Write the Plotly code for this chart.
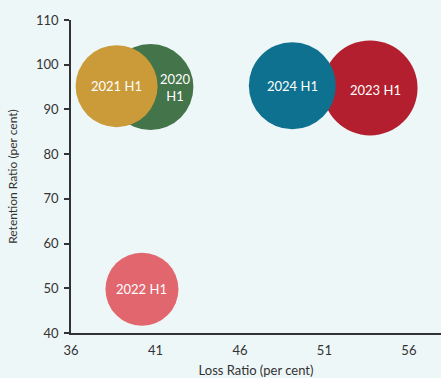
import plotly.graph_objects as go

# Half-year insurance performance: loss ratio vs retention ratio
periods = ["2020 H1", "2021 H1", "2022 H1", "2023 H1", "2024 H1"]
loss_ratio = [40.7, 38.7, 40.2, 53.7, 49.1]
retention_ratio = [95.0, 95.2, 49.8, 94.8, 95.3]
bubble_size = [86, 82, 73, 95, 87]
colors = ["#43744A", "#CB9B3A", "#E2666E", "#B31F2E", "#0F7190"]

x_ticks = [36, 41, 46, 51, 56]
y_ticks = [40, 50, 60, 70, 80, 90, 100, 110]

# label text and nudge per bubble
label_text = ["2020<br>H1", "2021 H1", "2022 H1", "2023 H1", "2024 H1"]
label_xshift = [25, 0, 0, 5, 0]
label_yshift = [0, 0, 0, -2, 0]

fig = go.Figure()
fig.add_trace(go.Scatter(
    x=loss_ratio,
    y=retention_ratio,
    mode="markers",
    marker=dict(size=bubble_size, sizemode="diameter", sizeref=1,
                color=colors, opacity=1, line=dict(width=0)),
    hoverinfo="text",
    text=periods,
    showlegend=False,
))

for xv, yv, txt, dx, dy in zip(loss_ratio, retention_ratio, label_text,
                               label_xshift, label_yshift):
    fig.add_annotation(x=xv, y=yv, text=txt, showarrow=False, xshift=dx, yshift=dy,
                       font=dict(family="Lato", size=13, color="white",
                                 lineposition="none"),
                       align="center")

bg = "#EEF7F7"
fig.update_layout(
    width=441, height=378,
    margin=dict(l=71, r=0, t=20, b=45),
    paper_bgcolor=bg, plot_bgcolor=bg,
    font=dict(family="Lato", size=13, color="#333333"),
    xaxis=dict(
        range=[36, 57.9], tickvals=x_ticks, showgrid=False, zeroline=False,
        showline=True, linecolor="#333333", linewidth=1.5, ticks="",
        ticklabelstandoff=5,
        title=dict(text="Loss Ratio (per cent)", font=dict(size=13), standoff=12),
    ),
    yaxis=dict(
        range=[40, 110], tickvals=y_ticks, showgrid=False, zeroline=False,
        showline=True, linecolor="#333333", linewidth=1.5,
        ticks="outside", ticklen=5, tickcolor="#333333", tickwidth=1.5,
        ticklabelstandoff=3,
        title=dict(text="Retention Ratio (per cent)", font=dict(size=12), standoff=16),
    ),
)

fig.write_html("out.html")
